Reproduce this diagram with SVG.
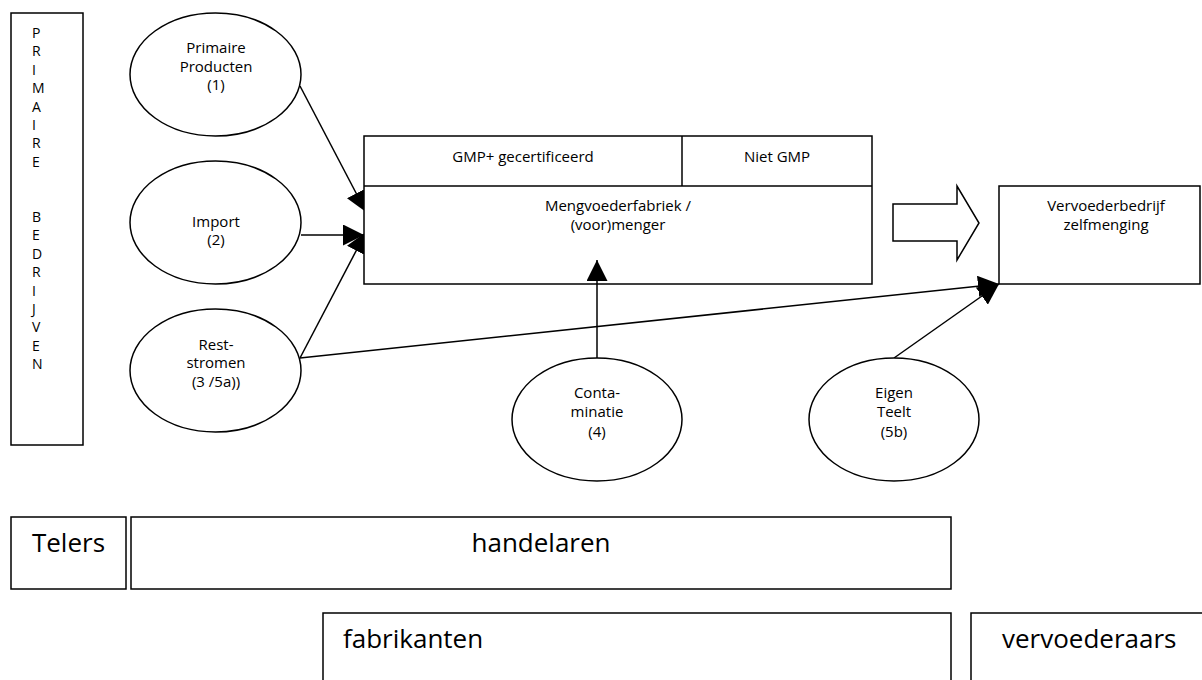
<svg xmlns="http://www.w3.org/2000/svg" width="1202" height="680" viewBox="0 0 1202 680">
<style>
.s{fill:#fff;stroke:#000;stroke-width:1.5}
.ln{fill:none;stroke:#000;stroke-width:1.5}
.t{font-family:"Open Sans","Noto Sans",sans-serif;font-size:15px;fill:#000;text-anchor:middle}
.v{font-family:"Open Sans","Noto Sans",sans-serif;font-size:14px;fill:#000}
.b{font-family:"Open Sans","Noto Sans",sans-serif;font-size:26px;fill:#000}
</style>
<defs>
<marker id="ah" markerUnits="userSpaceOnUse" markerWidth="21" markerHeight="21" refX="21" refY="10.5" orient="auto">
<path d="M0,0 L21,10.5 L0,21 z" fill="#000"/>
</marker>
</defs>
<g id="primaire-bedrijven">
<rect class="s" x="11" y="13" width="72" height="432"/>
<text class="v"><tspan x="32" y="38">P</tspan><tspan x="32" y="56.4">R</tspan><tspan x="32" y="74.8">I</tspan><tspan x="32" y="93.2">M</tspan><tspan x="32" y="111.6">A</tspan><tspan x="32" y="130">I</tspan><tspan x="32" y="148.4">R</tspan><tspan x="32" y="166.8">E</tspan><tspan x="32" y="222">B</tspan><tspan x="32" y="240.4">E</tspan><tspan x="32" y="258.8">D</tspan><tspan x="32" y="277.2">R</tspan><tspan x="32" y="295.6">I</tspan><tspan x="32" y="314">J</tspan><tspan x="32" y="332.4">V</tspan><tspan x="32" y="350.8">E</tspan><tspan x="32" y="369.2">N</tspan></text>
</g>
<g id="connectors">
<line class="ln" x1="300" y1="86" x2="366" y2="212" marker-end="url(#ah)"/>
<line class="ln" x1="301" y1="235" x2="364" y2="235" marker-end="url(#ah)"/>
<line class="ln" x1="300" y1="358" x2="366" y2="232" marker-end="url(#ah)"/>
<line class="ln" x1="300" y1="358" x2="999" y2="284" marker-end="url(#ah)"/>
<line class="ln" x1="894" y1="358" x2="999" y2="284" marker-end="url(#ah)"/>
</g>
<g id="mengvoederfabriek">
<rect class="s" x="364" y="136" width="508" height="148"/>
<line class="ln" x1="364" y1="186" x2="872" y2="186"/>
<line class="ln" x1="682" y1="136" x2="682" y2="186"/>
<text class="t" x="523" y="162">GMP+ gecertificeerd</text>
<text class="t" x="777" y="162">Niet GMP</text>
<text class="t" x="618" y="211">Mengvoederfabriek /</text>
<text class="t" x="618" y="230">(voor)menger</text>
</g>
<g id="connector-contaminatie">
<line class="ln" x1="597" y1="358" x2="597" y2="260" marker-end="url(#ah)"/>
</g>
<g id="primaire-producten">
<ellipse class="s" cx="215.5" cy="74.5" rx="85.5" ry="61.5"/>
<text class="t" x="216" y="53">Primaire</text>
<text class="t" x="216" y="72">Producten</text>
<text class="t" x="216" y="90">(1)</text>
</g>
<g id="import">
<ellipse class="s" cx="215.5" cy="222.5" rx="85.5" ry="61.5"/>
<text class="t" x="216" y="227">Import</text>
<text class="t" x="216" y="245">(2)</text>
</g>
<g id="reststromen">
<ellipse class="s" cx="215.5" cy="370.5" rx="85.5" ry="61.5"/>
<text class="t" x="216" y="350">Rest-</text>
<text class="t" x="216" y="368">stromen</text>
<text class="t" x="216" y="387">(3 /5a))</text>
</g>
<g id="contaminatie">
<ellipse class="s" cx="597" cy="419.5" rx="85" ry="61.5"/>
<text class="t" x="597" y="398">Conta-</text>
<text class="t" x="597" y="417">minatie</text>
<text class="t" x="597" y="437">(4)</text>
</g>
<g id="eigen-teelt">
<ellipse class="s" cx="894" cy="419.5" rx="85" ry="61.5"/>
<text class="t" x="894" y="398">Eigen</text>
<text class="t" x="894" y="417">Teelt</text>
<text class="t" x="894" y="437">(5b)</text>
</g>
<g id="block-arrow">
<polygon class="s" points="893,204 957,204 957,186 979,223 957,260 957,241 893,241"/>
</g>
<g id="vervoederbedrijf">
<rect class="s" x="999" y="186" width="201" height="98"/>
<text class="t" x="1106" y="211">Vervoederbedrijf</text>
<text class="t" x="1106" y="230">zelfmenging</text>
</g>
<g id="telers">
<rect class="s" x="11" y="517" width="115" height="72"/>
<text class="b" x="68.5" y="552" text-anchor="middle">Telers</text>
</g>
<g id="handelaren">
<rect class="s" x="131" y="517" width="820" height="72"/>
<text class="b" x="541" y="552" text-anchor="middle">handelaren</text>
</g>
<g id="fabrikanten">
<rect class="s" x="323" y="613" width="628" height="90"/>
<text class="b" x="343" y="648">fabrikanten</text>
</g>
<g id="vervoederaars">
<rect class="s" x="971" y="613" width="260" height="90"/>
<text class="b" x="1002" y="648">vervoederaars</text>
</g>
</svg>
